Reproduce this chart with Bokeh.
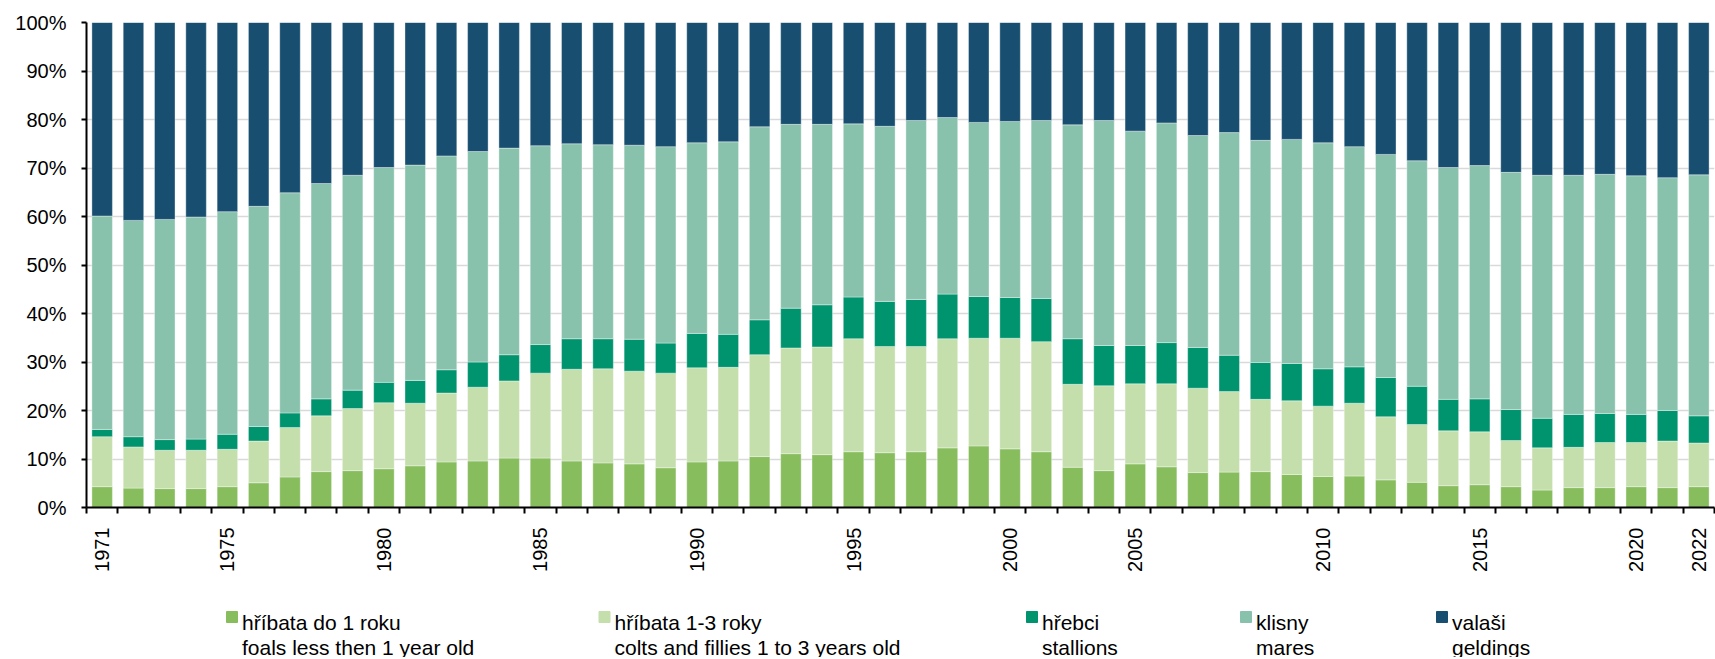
from math import pi
from bokeh.plotting import figure
from bokeh.layouts import column
from bokeh.models import (ColumnDataSource, Range1d, FixedTicker, PrintfTickFormatter)
from bokeh.core.properties import value
from bokeh.embed import file_html
from bokeh.resources import INLINE

# ---------------- data (shares in %) ----------------
years = list(range(1971, 2023))

foals = [4.3, 4.0, 3.9, 3.9, 4.3, 5.1, 6.3, 7.4, 7.6, 8.0,
         8.6, 9.4, 9.6, 10.2, 10.2, 9.6, 9.2, 9.0, 8.2, 9.4,
         9.6, 10.5, 11.1, 10.9, 11.5, 11.3, 11.5, 12.3, 12.7, 12.1,
         11.5, 8.3, 7.6, 9.0, 8.4, 7.2, 7.3, 7.4, 6.8, 6.4,
         6.5, 5.7, 5.2, 4.5, 4.7, 4.3, 3.6, 4.1, 4.1, 4.3,
         4.1, 4.3]
colts = [10.3, 8.5, 7.9, 7.9, 7.7, 8.6, 10.2, 11.5, 12.8, 13.6,
         12.9, 14.2, 15.2, 15.9, 17.5, 18.9, 19.4, 19.1, 19.5, 19.4,
         19.3, 21.0, 21.8, 22.2, 23.3, 21.9, 21.7, 22.5, 22.2, 22.8,
         22.7, 17.1, 17.5, 16.5, 17.1, 17.4, 16.6, 14.9, 15.2, 14.5,
         15.0, 13.0, 11.9, 11.3, 10.9, 9.5, 8.7, 8.3, 9.3, 9.1,
         9.6, 9.0]
stallions = [1.5, 2.1, 2.2, 2.3, 3.1, 3.0, 3.0, 3.5, 3.8, 4.2,
             4.7, 4.8, 5.2, 5.4, 5.9, 6.3, 6.2, 6.6, 6.2, 7.1,
             6.8, 7.2, 8.2, 8.7, 8.6, 9.3, 9.7, 9.2, 8.6, 8.4,
             8.9, 9.4, 8.3, 7.9, 8.5, 8.4, 7.5, 7.6, 7.7, 7.7,
             7.5, 8.1, 7.9, 6.5, 6.8, 6.4, 6.1, 6.8, 6.0, 5.8,
             6.3, 5.6]
mares = [44.0, 44.6, 45.4, 45.8, 45.9, 45.4, 45.4, 44.4, 44.3, 44.3,
         44.4, 44.1, 43.4, 42.6, 41.0, 40.2, 40.0, 40.0, 40.5, 39.3,
         39.7, 39.8, 37.9, 37.2, 35.7, 36.1, 36.9, 36.4, 35.9, 36.3,
         36.7, 44.1, 46.4, 44.2, 45.3, 43.7, 45.9, 45.8, 46.2, 46.6,
         45.4, 46.0, 46.5, 47.8, 48.1, 48.9, 50.1, 49.3, 49.3, 49.2,
         48.0, 49.7]
geldings = [39.9, 40.8, 40.6, 40.1, 39.0, 37.9, 35.1, 33.2, 31.5, 29.9,
            29.4, 27.5, 26.6, 25.9, 25.4, 25.0, 25.2, 25.3, 25.6, 24.8,
            24.6, 21.5, 21.0, 21.0, 20.9, 21.4, 20.2, 19.6, 20.6, 20.4,
            20.2, 21.1, 20.2, 22.4, 20.7, 23.3, 22.7, 24.3, 24.1, 24.8,
            25.6, 27.2, 28.5, 29.9, 29.5, 30.9, 31.5, 31.5, 31.3, 31.6,
            32.0, 31.4]

series_keys = ["foals", "colts", "stallions", "mares", "geldings"]
series_labels_cz = ["hříbata do 1 roku", "hříbata 1-3 roky", "hřebci", "klisny", "valaši"]
series_labels_en = ["foals less then 1 year old", "colts and fillies 1 to 3 years old",
                    "stallions", "mares", "geldings"]
series_colors = ["#88BD5E", "#C4DEAC", "#00946E", "#88C2AD", "#184F70"]

# x-axis tick labels (category position -> text), as printed in the chart
tick_positions = [0, 4, 9, 14, 19, 24, 29, 33, 39, 44, 49, 51]
tick_labels = ["1971", "1975", "1980", "1985", "1990", "1995",
               "2000", "2005", "2010", "2015", "2020", "2022"]
y_ticks = [0, 10, 20, 30, 40, 50, 60, 70, 80, 90, 100]

# ---------------- layout constants ----------------
FONT = "Liberation Sans"
W = 1715
H_MAIN = 580
H_LEG = 77
BL, BR = 86, 1                               # left / right borders shared by both rows
legend_x = [226, 598.5, 1026, 1240, 1436]   # page x of each legend swatch (px)

# ---------------- main chart ----------------
n = len(years)
source = ColumnDataSource(dict(x=list(range(n)), year=years, foals=foals, colts=colts,
                               stallions=stallions, mares=mares, geldings=geldings))

p = figure(width=W, height=H_MAIN, output_backend="svg", toolbar_location=None,
           x_range=Range1d(-0.5, n - 0.5), y_range=Range1d(0, 100),
           min_border_left=BL, min_border_right=BR, min_border_top=22,
           min_border_bottom=73)
p.outline_line_color = None
p.background_fill_color = "white"
p.border_fill_color = "white"

p.vbar_stack(series_keys, x="x", width=0.655, color=series_colors,
             source=source, line_color="white", line_width=0.6, line_alpha=0.6)

p.xgrid.visible = False
p.ygrid.ticker = FixedTicker(ticks=y_ticks)
p.ygrid.grid_line_color = "#D9D9D9"
p.ygrid.grid_line_width = 1.5

p.yaxis.ticker = FixedTicker(ticks=y_ticks)
p.yaxis.formatter = PrintfTickFormatter(format="%d%%")
p.yaxis.axis_line_color = "black"
p.yaxis.axis_line_width = 2
p.yaxis.major_tick_line_color = "black"
p.yaxis.major_tick_line_width = 2
p.yaxis.major_tick_out = 5
p.yaxis.major_tick_in = 0
p.yaxis.minor_tick_line_color = None
p.yaxis.major_label_standoff = 15
p.yaxis.major_label_text_font = FONT
p.yaxis.major_label_text_font_size = "20px"
p.yaxis.major_label_text_color = "black"

p.xaxis.ticker = FixedTicker(ticks=tick_positions,
                             minor_ticks=[i - 0.5 for i in range(n + 1)])
p.xaxis.major_label_overrides = {pos: lab for pos, lab in zip(tick_positions, tick_labels)}
p.xaxis.axis_line_color = "black"
p.xaxis.axis_line_width = 2
p.xaxis.major_tick_out = 0
p.xaxis.major_tick_in = 0
p.xaxis.major_tick_line_color = None
p.xaxis.minor_tick_out = 6
p.xaxis.minor_tick_in = 0
p.xaxis.minor_tick_line_color = "black"
p.xaxis.minor_tick_line_width = 2
p.xaxis.major_label_orientation = pi / 2
p.xaxis.major_label_standoff = 14
p.xaxis.major_label_text_font = FONT
p.xaxis.major_label_text_font_size = "20px"
p.xaxis.major_label_text_color = "black"

# ---------------- legend strip (page-pixel x, y downward) ----------------
leg = figure(width=W, height=H_LEG, output_backend="svg", toolbar_location=None,
             x_range=Range1d(BL, W - BR), y_range=Range1d(H_LEG, 0),
             x_axis_type=None, y_axis_type=None,
             min_border_left=BL, min_border_right=BR, min_border_top=0,
             min_border_bottom=0)
leg.outline_line_color = None
leg.grid.visible = False
leg.background_fill_color = "white"
leg.border_fill_color = "white"

sw = 11
sw_top = 31.0
leg_src = ColumnDataSource(dict(
    left=legend_x, right=[x + sw for x in legend_x],
    top=[sw_top] * 5, bottom=[sw_top + sw] * 5,
    tx=[x + sw + 4.5 for x in legend_x],
    y1=[sw_top + sw] * 5, y2=[sw_top + sw + 24.5] * 5,
    cz=series_labels_cz, en=series_labels_en, color=series_colors))
leg.quad(left="left", right="right", top="top", bottom="bottom", color="color",
         source=leg_src)
leg.text(x="tx", y="y1", text="cz", source=leg_src, text_font=value(FONT),
         text_font_size="21px", text_color="black", text_baseline="alphabetic",
         text_align="left")
leg.text(x="tx", y="y2", text="en", source=leg_src, text_font=value(FONT),
         text_font_size="21px", text_color="black", text_baseline="alphabetic",
         text_align="left")

layout = column(p, leg, spacing=0)
open("out.html", "w").write(file_html(layout, INLINE))
